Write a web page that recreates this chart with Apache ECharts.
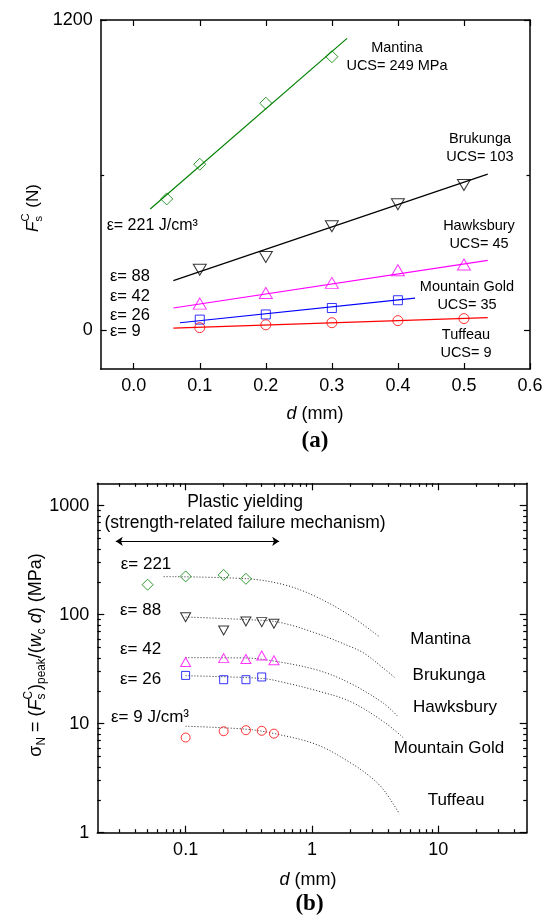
<!DOCTYPE html>
<html><head><meta charset="utf-8">
<script src="https://cdn.jsdelivr.net/npm/echarts@6/dist/echarts.min.js"></script>
<style>html,body{margin:0;padding:0;background:#fff}#c{width:551px;height:920px}</style>
</head><body><div id="c"></div>
<script>
// ===== Panel (a): F_s^C (N) vs d (mm) =====
const xTicksA = [0, 0.1, 0.2, 0.3, 0.4, 0.5, 0.6];
const yLabelsA = [0, 1200];
const yMinorA = [600];

const mantinaD = [0.05, 0.1, 0.2, 0.3];
const mantinaF = [508, 642, 878, 1058];
const brukungaD = [0.1, 0.2, 0.3, 0.4, 0.5];
const brukungaF = [234, 283, 402, 487, 562];
const hawksburyD = [0.1, 0.2, 0.3, 0.4, 0.5];
const hawksburyF = [103, 144, 183, 232, 254];
const mountainGoldD = [0.1, 0.2, 0.3, 0.4];
const mountainGoldF = [41, 61, 86, 116];
const tuffeauD = [0.1, 0.2, 0.3, 0.4, 0.5];
const tuffeauF = [10, 21, 29, 37, 45];

// fitted lines (end points)
const mantinaFitD = [0.025, 0.323];
const mantinaFitF = [469, 1129];
const brukungaFitD = [0.06, 0.536];
const brukungaFitF = [192, 604];
const hawksburyFitD = [0.06, 0.536];
const hawksburyFitF = [86, 270];
const mountainGoldFitD = [0.07, 0.426];
const mountainGoldFitF = [29, 124];
const tuffeauFitD = [0.06, 0.536];
const tuffeauFitF = [8, 49];

// ===== Panel (b): sigma_N (MPa) vs d (mm), log-log =====
const xLabelsB = [0.1, 1, 10];
const xMinorB = [0.03, 0.04, 0.05, 0.06, 0.07, 0.08, 0.09, 0.2, 0.3, 0.4, 0.5, 0.6, 0.7, 0.8, 0.9,
                 2, 3, 4, 5, 6, 7, 8, 9, 20, 30, 40];
const yLabelsB = [1, 10, 100, 1000];
const yMinorB = [2, 3, 4, 5, 6, 7, 8, 9, 20, 30, 40, 50, 60, 70, 80, 90, 200, 300, 400, 500, 600, 700, 800, 900];

const sMantinaD = [0.05, 0.1, 0.2, 0.3];
const sMantina = [188, 224, 231, 213];
const sBrukungaD = [0.1, 0.2, 0.3, 0.4, 0.5];
const sBrukunga = [94.7, 71.6, 86.5, 85.3, 82.4];
const sHawksburyD = [0.1, 0.2, 0.3, 0.4, 0.5];
const sHawksbury = [36.7, 39.9, 39.2, 42.1, 38.1];
const sMountainGoldD = [0.1, 0.2, 0.3, 0.4];
const sMountainGold = [27.7, 25.3, 25.3, 26.8];
const sTuffeauD = [0.1, 0.2, 0.3, 0.4, 0.5];
const sTuffeau = [7.46, 8.52, 8.71, 8.6, 8.1];

// dotted model curves
const cMantinaD = [0.067, 0.31, 0.6, 1.05, 2.0, 3.45];
const cMantina = [223, 213, 188, 148, 98, 62];
const cBrukungaD = [0.1, 0.3, 0.55, 1.1, 2.0, 2.6, 3.7, 4.6];
const cBrukunga = [95, 90, 85, 67, 51, 44, 32, 26];
const cHawksburyD = [0.1, 0.3, 0.5, 1.1, 2.0, 3.7, 4.86];
const cHawksbury = [40.3, 40, 37.5, 31, 23.5, 15.3, 11.4];
const cMountainGoldD = [0.1, 0.4, 0.56, 1.1, 2.0, 3.7, 5.26];
const cMountainGold = [27.5, 26, 24.3, 20, 16, 10.4, 7.46];
const cTuffeauD = [0.1, 0.3, 0.5, 1.1, 2.0, 2.9, 3.7, 4.93];
const cTuffeau = [9.47, 8.9, 8.12, 6.4, 4.4, 3.25, 2.46, 1.48];

const arrowD = [0.028, 0.55];
const arrowS = 470;

// ===== helpers =====
const FONT = 'Liberation Sans';
const zip = (a, b) => a.map((v, i) => [v, b[i]]);
const GREEN = '#008000', MAG = '#ff00ff', BLUE = '#0000ff', RED = '#ff0000', BLK = '#000000';

const mctx = document.createElement('canvas').getContext('2d');
function tw(s, size, italic, weight) {
  mctx.font = (italic ? 'italic ' : '') + (weight || 'normal') + ' ' + size + 'px "' + FONT + '"';
  return mctx.measureText(s).width;
}
function tEl(s, x, y, size, opt) {
  opt = opt || {};
  return { type: 'text', x: x, y: y, silent: true, style: {
    text: s, fontSize: size, fontFamily: opt.family || FONT, fontStyle: opt.italic ? 'italic' : 'normal',
    fontWeight: opt.weight || 'normal', fill: '#000',
    align: opt.align || 'left', textAlign: opt.align || 'left', verticalAlign: 'middle', textVerticalAlign: 'middle' } };
}
function title(parts, base, cx, cy, rotate) {
  const small = base * 0.66;
  const kids = [];
  let x = 0;
  parts.forEach(p => {
    const t = p[0], k = p[1];
    if (k === 'ss') {
      kids.push(tEl(t[0], x, -base * 0.4, small));
      kids.push(tEl(t[1], x, base * 0.32, small));
      x += Math.max(tw(t[0], small), tw(t[1], small)) + 1;
    } else if (k === 'sup') {
      kids.push(tEl(t, x, -base * 0.4, small)); x += tw(t, small);
    } else if (k === 'sub') {
      kids.push(tEl(t, x, base * 0.32, small)); x += tw(t, small);
    } else {
      const it = k === 'i';
      kids.push(tEl(t, x, 0, base, { italic: it })); x += tw(t, base, it);
    }
  });
  kids.forEach(c => { c.x -= x / 2; });
  return { type: 'group', x: cx, y: cy, rotation: rotate ? Math.PI / 2 : 0, children: kids };
}

const lbl = { fontFamily: FONT, fontSize: 18, color: '#000' };
const axLine = { show: true, onZero: false, lineStyle: { color: '#000', width: 1.5 } };
const noLine = { show: false, onZero: false };
function axis(o) {
  return Object.assign({
    splitLine: { show: false }, axisLine: axLine,
    axisLabel: { show: false },
  }, o);
}
function ticks(vals, len) {
  return { show: true, inside: true, length: len, customValues: vals, lineStyle: { color: '#000', width: 1.2 } };
}
const fmtB = v => String(+(+v).toPrecision(3));

const xAxes = [
  axis({ gridIndex: 0, type: 'value', position: 'bottom', min: -0.05, max: 0.6,
    axisTick: ticks(xTicksA, 6),
    axisLabel: Object.assign({ show: true, customValues: xTicksA, margin: 8, formatter: v => (+v).toFixed(1) }, lbl) }),
  axis({ gridIndex: 0, type: 'value', position: 'top', min: -0.05, max: 0.6, axisTick: ticks(xTicksA, 6) }),
  axis({ gridIndex: 1, type: 'log', logBase: 10, position: 'bottom', min: 0.02, max: 50,
    axisTick: ticks(xLabelsB, 7),
    axisLabel: Object.assign({ show: true, customValues: xLabelsB, margin: 8, formatter: fmtB }, lbl) }),
  axis({ gridIndex: 1, type: 'log', logBase: 10, position: 'bottom', min: 0.02, max: 50,
    axisLine: noLine, axisTick: ticks(xMinorB, 3.5) }),
  axis({ gridIndex: 1, type: 'log', logBase: 10, position: 'top', min: 0.02, max: 50, axisTick: ticks(xLabelsB, 7) }),
  axis({ gridIndex: 1, type: 'log', logBase: 10, position: 'top', min: 0.02, max: 50,
    axisLine: noLine, axisTick: ticks(xMinorB, 3.5) }),
];
const yAxes = [
  axis({ gridIndex: 0, type: 'value', position: 'left', min: -150, max: 1200,
    axisTick: ticks(yLabelsA, 6),
    axisLabel: Object.assign({ show: true, customValues: yLabelsA, margin: 8, formatter: v => String(Math.round(v)) }, lbl) }),
  axis({ gridIndex: 0, type: 'value', position: 'left', min: -150, max: 1200,
    axisLine: noLine, axisTick: ticks(yMinorA, 3.5) }),
  axis({ gridIndex: 0, type: 'value', position: 'right', min: -150, max: 1200, axisTick: ticks(yLabelsA, 6) }),
  axis({ gridIndex: 0, type: 'value', position: 'right', min: -150, max: 1200,
    axisLine: noLine, axisTick: ticks(yMinorA, 3.5) }),
  axis({ gridIndex: 1, type: 'log', logBase: 10, position: 'left', min: 1, max: 1600,
    axisTick: ticks(yLabelsB, 7),
    axisLabel: Object.assign({ show: true, customValues: yLabelsB, margin: 8, formatter: fmtB }, lbl) }),
  axis({ gridIndex: 1, type: 'log', logBase: 10, position: 'left', min: 1, max: 1600,
    axisLine: noLine, axisTick: ticks(yMinorB, 3.5) }),
  axis({ gridIndex: 1, type: 'log', logBase: 10, position: 'right', min: 1, max: 1600, axisTick: ticks(yLabelsB, 7) }),
  axis({ gridIndex: 1, type: 'log', logBase: 10, position: 'right', min: 1, max: 1600,
    axisLine: noLine, axisTick: ticks(yMinorB, 3.5) }),
];

function pts(d, v, color, symbol, size, xi, yi, rot) {
  return { type: 'scatter', xAxisIndex: xi, yAxisIndex: yi, data: zip(d, v), symbol: symbol, symbolSize: size,
    symbolRotate: rot || 0, z: 5, silent: true,
    itemStyle: { color: 'rgba(0,0,0,0)', borderColor: color, borderWidth: 1 } };
}
function fit(d, v, color) {
  return { type: 'line', xAxisIndex: 0, yAxisIndex: 0, data: zip(d, v), symbol: 'none', silent: true, z: 3,
    lineStyle: { color: color, width: 1.2 } };
}
function curve(d, v) {
  return { type: 'line', xAxisIndex: 2, yAxisIndex: 4, data: zip(d, v), symbol: 'none', silent: true, z: 3,
    smooth: 0.35, lineStyle: { color: '#222', width: 1, type: [1, 2] } };
}

const series = [
  fit(mantinaFitD, mantinaFitF, GREEN),
  fit(brukungaFitD, brukungaFitF, BLK),
  fit(hawksburyFitD, hawksburyFitF, MAG),
  fit(mountainGoldFitD, mountainGoldFitF, BLUE),
  fit(tuffeauFitD, tuffeauFitF, RED),
  pts(mantinaD, mantinaF, GREEN, 'diamond', 12, 0, 0),
  pts(brukungaD, brukungaF, BLK, 'triangle', [13, 11], 0, 0, 180),
  pts(hawksburyD, hawksburyF, MAG, 'triangle', [13, 11], 0, 0),
  pts(mountainGoldD, mountainGoldF, BLUE, 'rect', 9, 0, 0),
  pts(tuffeauD, tuffeauF, RED, 'circle', 10, 0, 0),

  curve(cMantinaD, cMantina),
  curve(cBrukungaD, cBrukunga),
  curve(cHawksburyD, cHawksbury),
  curve(cMountainGoldD, cMountainGold),
  curve(cTuffeauD, cTuffeau),
  pts(sMantinaD, sMantina, GREEN, 'diamond', 11, 2, 4),
  pts(sBrukungaD, sBrukunga, BLK, 'triangle', [10, 9], 2, 4, 180),
  pts(sHawksburyD, sHawksbury, MAG, 'triangle', [10, 9], 2, 4),
  pts(sMountainGoldD, sMountainGold, BLUE, 'rect', 8, 2, 4),
  pts(sTuffeauD, sTuffeau, RED, 'circle', 9, 2, 4),
  { type: 'line', xAxisIndex: 2, yAxisIndex: 4, data: [], silent: true,
    markLine: { silent: true, symbol: ['arrow', 'arrow'], symbolSize: 7, label: { show: false },
      lineStyle: { color: '#000', width: 1, type: 'solid' },
      emphasis: { disabled: true },
      data: [[{ coord: [arrowD[0], arrowS] }, { coord: [arrowD[1], arrowS] }]] } },
];

const graphics = [
  // panel (a) annotations
  tEl('Mantina', 397, 48, 14.5, { align: 'center' }),
  tEl('UCS= 249 MPa', 397, 66, 14.5, { align: 'center' }),
  tEl('Brukunga', 480, 139, 14.5, { align: 'center' }),
  tEl('UCS= 103', 480, 157, 14.5, { align: 'center' }),
  tEl('Hawksbury', 479, 226, 14.5, { align: 'center' }),
  tEl('UCS= 45', 479, 244, 14.5, { align: 'center' }),
  tEl('Mountain Gold', 467, 287, 14.5, { align: 'center' }),
  tEl('UCS= 35', 467, 305, 14.5, { align: 'center' }),
  tEl('Tuffeau', 466, 335, 14.5, { align: 'center' }),
  tEl('UCS= 9', 466, 353, 14.5, { align: 'center' }),
  tEl('ε= 221 J/cm³', 106.7, 225.5, 16),
  tEl('ε= 88', 110, 276.5, 16.5),
  tEl('ε= 42', 110, 296.7, 16.5),
  tEl('ε= 26', 110, 315.8, 16.5),
  tEl('ε= 9', 110, 331.8, 16.5),
  title([['d', 'i'], [' (mm)', 'n']], 18, 315, 414),
  tEl('(a)', 315, 441, 23, { align: 'center', family: 'Liberation Serif', weight: 'bold' }),
  title([['F', 'i'], [['C', 's'], 'ss'], [' (N)', 'n']], 17, 33, 208, true),

  // panel (b) annotations
  tEl('Plastic yielding', 245, 501.7, 17.5, { align: 'center' }),
  tEl('(strength-related failure mechanism)', 245, 523.3, 17.5, { align: 'center' }),
  tEl('ε= 221', 120.7, 564.5, 17),
  tEl('ε= 88', 120, 610.8, 17),
  tEl('ε= 42', 120, 649.7, 17),
  tEl('ε= 26', 120, 679.7, 17),
  tEl('ε= 9 J/cm³', 111, 717, 17),
  tEl('Mantina', 440.5, 639.3, 17, { align: 'center' }),
  tEl('Brukunga', 449, 675, 17, { align: 'center' }),
  tEl('Hawksbury', 455, 707.3, 17, { align: 'center' }),
  tEl('Mountain Gold', 449, 748.3, 17, { align: 'center' }),
  tEl('Tuffeau', 456, 800.7, 17, { align: 'center' }),
  title([['d', 'i'], [' (mm)', 'n']], 18, 308, 880),
  tEl('(b)', 309.5, 904, 23, { align: 'center', family: 'Liberation Serif', weight: 'bold' }),
  title([['σ', 'n'], ['N', 'sub'], [' = (', 'n'], ['F', 'i'], [['C', 's'], 'ss'], [')', 'n'], ['peak', 'sub'],
         ['/(', 'n'], ['w', 'i'], ['c', 'sub'], [' ', 'n'], ['d', 'i'], [') (MPa)', 'n']], 18, 36, 655, true),
];

const chart = echarts.init(document.getElementById('c'), null, { renderer: 'canvas' });
chart.setOption({
  animation: false,
  backgroundColor: '#fff',
  grid: [
    { left: 100.7, top: 20, width: 429.3, height: 349 },
    { left: 97.3, top: 483.3, width: 429.4, height: 349.4 },
  ],
  xAxis: xAxes,
  yAxis: yAxes,
  series: series,
  graphic: graphics,
});
</script>
</body></html>
